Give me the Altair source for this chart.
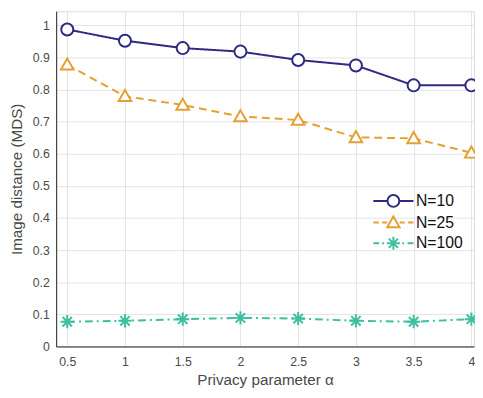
import altair as alt
import pandas as pd

alpha = [0.5, 1, 1.5, 2, 2.5, 3, 3.5, 4]
n10 = [0.987, 0.952, 0.929, 0.918, 0.892, 0.875, 0.813, 0.813]
n25 = [0.877, 0.779, 0.752, 0.716, 0.705, 0.651, 0.648, 0.603]
n100 = [0.077, 0.080, 0.085, 0.089, 0.087, 0.080, 0.077, 0.085]
y_ticks = [0, 0.1, 0.2, 0.3, 0.4, 0.5, 0.6, 0.7, 0.8, 0.9, 1]
series_names = ["N=10", "N=25", "N=100"]
series_values = [n10, n25, n100]
colors = ["#2E2A82", "#E6A032", "#3DBFA1"]
dashes = [[1, 0], [8, 5], [8, 4, 2, 4]]

circle = "M1,0A1,1,0,1,1,-1,0A1,1,0,1,1,1,0Z"
triangle = "M0,-1.05L1.05,0.8L-1.05,0.8Z"
star = ("M-1.1,0L1.1,0M0,-1.1L0,1.1M-0.78,-0.78L0.78,0.78"
        "M-0.78,0.78L0.78,-0.78")
markers = [circle, triangle, star]

L = 3.4
leg_paths = [
    f"M{-L},0L-1,0M1,0L{L},0" + circle,
    f"M{-L},0L{-L+0.9},0M{-L+1.5},0L-1.05,0M1.05,0L{L-1.5},0M{L-0.9},0L{L},0" + triangle,
    f"M{-L},0L{-L+1.0},0M{-L+1.5},0L{-L+1.8},0M1.5,0L1.8,0M{L-1.0},0L{L},0" + star,
]

rows = []
for name, vals in zip(series_names, series_values):
    for a, v in zip(alpha, vals):
        rows.append({"alpha": a, "value": v, "series": name})
df = pd.DataFrame(rows)

xs = alt.Scale(domain=[0.404, 4.023], nice=False, zero=False)
ys = alt.Scale(domain=[0, 1.0438], nice=False, zero=False)

font = "Liberation Sans"
xaxis = alt.Axis(values=alpha, title="Privacy parameter α", grid=True, ticks=False,
                 labelPadding=9, titlePadding=5, labelFontSize=12.5, titleFontSize=15.5,
                 labelColor="#4a4a4a", titleColor="#4a4a4a", titleFontWeight="normal",
                 gridColor="#e3e3e3", domainColor="#262626", labelFont=font, titleFont=font,
                 labelExpr="format(datum.value, '~g')", labelFlush=False, labelOverlap=False)
yaxis = alt.Axis(values=y_ticks, title="Image distance (MDS)", grid=True,
                 ticks=False, labelPadding=7, titlePadding=8, labelFontSize=12.5, titleFontSize=15.5,
                 labelColor="#4a4a4a", titleColor="#4a4a4a", titleFontWeight="normal",
                 gridColor="#e3e3e3", domainColor="#262626", labelFont=font, titleFont=font,
                 labelExpr="format(datum.value, '~g')", labelFlush=False, labelOverlap=False)

X = alt.X("alpha:Q", scale=xs, axis=xaxis)
Y = alt.Y("value:Q", scale=ys, axis=yaxis)

layers = []
for i, name in enumerate(series_names):
    sub = df[df.series == name]
    base = alt.Chart(sub)
    line = base.mark_line(strokeWidth=2, color=colors[i], strokeDash=dashes[i]).encode(x=X, y=Y)
    pts = base.mark_point(filled=False, fill="white", fillOpacity=1, stroke=colors[i],
                          strokeWidth=2, opacity=1, size=150, shape=markers[i]).encode(x=X, y=Y)
    layers += [line, pts]

leg = alt.Legend(orient="none", legendX=335, legendY=185, title=None,
                 labelFontSize=16, labelColor="#111111", labelFont=font,
                 labelOffset=15, symbolSize=144, symbolStrokeWidth=2,
                 rowPadding=1, padding=0)
legend_layer = alt.Chart(df).transform_filter("false").mark_point(
    filled=False, strokeWidth=2, opacity=1).encode(
    x=X, y=Y,
    color=alt.Color("series:N", scale=alt.Scale(domain=series_names, range=colors), legend=leg),
    shape=alt.Shape("series:N", scale=alt.Scale(domain=series_names, range=leg_paths), legend=leg),
)
layers.append(legend_layer)

chart = alt.layer(*layers).properties(
    width=425, height=341,
    autosize=alt.AutoSizeParams(type="none"),
    padding={"left": 49, "top": 0, "right": 1, "bottom": 41},
).configure_view(stroke="#262626", strokeWidth=1).configure(background="white")

chart.save("out.html", embed_options={"renderer": "svg", "actions": False})
